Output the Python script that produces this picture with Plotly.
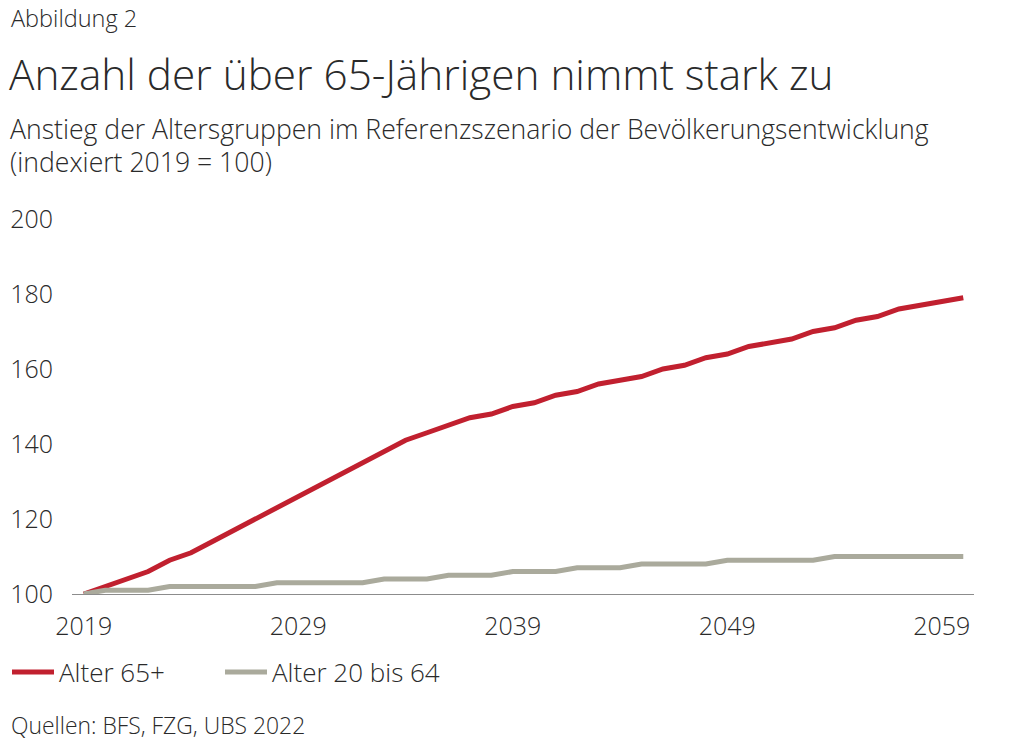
import plotly.graph_objects as go

years = list(range(2019, 2061))
alter_65 = [100, 102, 104, 106, 109, 111, 114, 117, 120, 123, 126, 129, 132, 135, 138, 141,
            143, 145, 147, 148, 150, 151, 153, 154, 156, 157, 158, 160, 161, 163, 164, 166,
            167, 168, 170, 171, 173, 174, 176, 177, 178, 179]
alter_20_64 = [100, 101, 101, 101, 102, 102, 102, 102, 102, 103, 103, 103, 103, 103, 104, 104,
               104, 105, 105, 105, 106, 106, 106, 107, 107, 107, 108, 108, 108, 108, 109, 109,
               109, 109, 109, 110, 110, 110, 110, 110, 110, 110]
series_names = ["Alter 65+", "Alter 20 bis 64"]
x_ticks = [2019, 2029, 2039, 2049, 2059]
y_ticks = [100, 120, 140, 160, 180, 200]

RED = "#c1202f"
GRAY = "#aaaa9c"
TEXT = "#2a2a2a"
FONT = "Open Sans"
WT = 350

W, H = 1015, 744
L, R, T, B = 72, 41, 219, 150
PW, PH = W - L - R, H - T - B


def px2x(p):
    return (p - L) / PW


def px2y(p):
    return (H - B - p) / PH


fig = go.Figure()
fig.add_trace(go.Scatter(x=years, y=alter_65, mode="lines", name=series_names[0],
                         line=dict(color=RED, width=5), legend="legend"))
fig.add_trace(go.Scatter(x=years, y=alter_20_64, mode="lines", name=series_names[1],
                         line=dict(color=GRAY, width=5), legend="legend2"))

annotations = [
    dict(text="Abbildung 2", x=px2x(9), y=px2y(18), size=23.5),
    dict(text="Anzahl der über 65-Jährigen nimmt stark zu", x=px2x(7), y=px2y(73), size=42.3),
    dict(text="Anstieg der Altersgruppen im Referenzszenario der Bevölkerungsentwicklung",
         x=px2x(8), y=px2y(129), size=26.6),
    dict(text="(indexiert 2019 = 100)", x=px2x(8), y=px2y(162), size=26.6),
    dict(text="Quellen: BFS, FZG, UBS 2022", x=px2x(9), y=px2y(725), size=22.9),
]
for a in annotations:
    fig.add_annotation(text=a["text"], x=a["x"], y=a["y"], xref="paper", yref="paper",
                       xanchor="left", yanchor="middle", showarrow=False,
                       font=dict(family=FONT, size=a["size"], color=TEXT, weight=WT))

legend_common = dict(orientation="h", xanchor="left", yanchor="middle",
                     font=dict(family=FONT, size=26, color=TEXT, weight=WT), itemwidth=42,
                     bgcolor="rgba(0,0,0,0)")

fig.update_layout(
    width=W, height=H,
    margin=dict(l=L, r=R, t=T, b=B, autoexpand=False),
    paper_bgcolor="white", plot_bgcolor="white",
    font=dict(family=FONT, color=TEXT, weight=WT),
    showlegend=True,
    legend=dict(x=px2x(7), y=px2y(672), **legend_common),
    legend2=dict(x=px2x(220), y=px2y(672), **legend_common),
    xaxis=dict(range=[2018.45, 2060.5], tickvals=x_ticks, ticktext=[str(v) for v in x_ticks],
               showgrid=False, zeroline=False, showline=True, linecolor="#8c8c8c",
               linewidth=1, ticks="", tickfont=dict(family=FONT, size=25, color=TEXT, weight=WT),
               ticklabelstandoff=10, fixedrange=True),
    yaxis=dict(range=[100, 200], tickvals=y_ticks, showgrid=False, zeroline=False,
               showline=False, ticks="", tickfont=dict(family=FONT, size=25, color=TEXT, weight=WT),
               ticklabelstandoff=18, fixedrange=True),
)

fig.write_html("out.html", config={"displayModeBar": False})
